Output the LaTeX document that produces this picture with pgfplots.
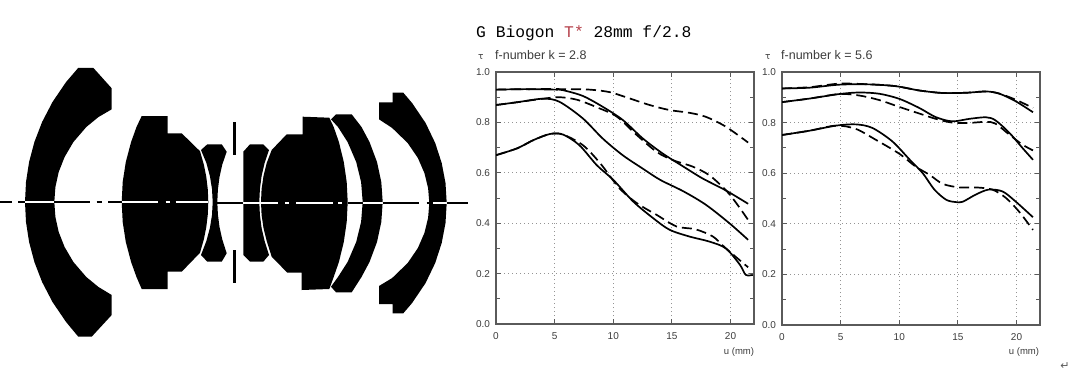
\documentclass[border=0pt]{standalone}
\usepackage{pgfplots}
\pgfplotsset{compat=1.18}
\usepackage{fontspec}
\setmainfont{Liberation Sans}
\newfontfamily\titlefont{Liberation Mono}
\newfontfamily\symfont{DejaVu Sans}
\definecolor{axgray}{HTML}{5A5A5A}
\definecolor{txtgray}{HTML}{3C3C3C}
\definecolor{tred}{HTML}{B5404A}
\pgfplotsset{
  lens/.style={fill=black,draw=none,forget plot},
  cb/.style={black,line width=1.6pt,forget plot},
  cw/.style={white,line width=1.6pt,forget plot},
  sol/.style={black,line width=1.7pt,smooth,tension=0.5,no markers},
  das/.style={black,line width=1.7pt,smooth,tension=0.5,no markers,dash pattern=on 10pt off 5pt},
  panel/.style={
    scale only axis, anchor=south west,
    xmin=0,xmax=22,ymin=0,ymax=1,
    xtick={0,5,10,15,20},
    ytick={0,0.2,0.4,0.6,0.8,1.0},
    minor y tick num=1,
    yticklabel style={/pgf/number format/fixed,/pgf/number format/fixed zerofill,/pgf/number format/precision=1},
    /pgf/number format/assume math mode=true,
    tick label style={font=\fontsize{10}{10}\selectfont,text=txtgray},
    grid=major,
    major grid style={axgray!65,line width=0.9pt,dash pattern=on 0.9pt off 3.1pt},
    axis line style={axgray,line width=1.1pt},
    tick style={axgray,line width=1pt},
    major tick length=5pt, minor tick length=4pt,
    tick align=inside,
    xtick pos=both, ytick pos=both,
    xticklabel pos=bottom, yticklabel pos=left,
    xticklabel style={yshift=-5pt},
    yticklabel style={xshift=-2.5pt},
  }
}
\begin{document}
\begin{tikzpicture}[x=1pt,y=1pt]
\path[use as bounding box] (0,0) rectangle (1080,376);
% lens diagram, in image pixel coordinates
\begin{axis}[at={(0pt,0pt)},anchor=south west,scale only axis,width=1080pt,height=376pt,
  xmin=0,xmax=1080,ymin=0,ymax=376,y dir=reverse,hide axis]
\addplot[lens] coordinates {(78.3,67.8)(93.3,67.8)(111.7,88.3)(111.7,109.3)(98.5,117)(86.3,127)(73.4,142)(64.6,157)(58.7,172)(55.4,187)(54.3,202)(55.4,217)(58.7,232)(64.6,247)(73.4,262)(86.3,277)(98.5,287)(111.7,295)(111.7,315)(91.7,336.7)(78.3,336.7)(66.1,322)(52.5,302)(42.1,282)(34.4,262)(29.1,242)(26,222)(25,202)(26,182)(29.1,162)(34.4,142)(42.1,122)(52.5,102)(66.1,82)} --cycle;
\addplot[lens] coordinates {(141.7,116)(167.7,116)(167.7,133.3)(181.7,133.3)(200,151.2)(203.8,164.5)(206.3,177)(207.8,189.5)(208.3,202)(207.8,214.5)(206.3,227)(203.8,239.5)(200,252.8)(181.7,271.7)(167.7,271.7)(167.7,289)(141.7,289)(136.5,277)(131.1,262)(125.8,242)(122.7,222)(121.7,202)(122.7,182)(125.8,162)(131.1,142)(136.5,127)} --cycle;
\addplot[lens] coordinates {(207.3,144.3)(221.7,144.3)(226.7,151.7)(222.3,164.5)(219.5,177)(217.9,189.5)(217.3,202)(217.9,214.5)(219.5,227)(222.3,239.5)(226.7,253.3)(221.7,261.7)(207.3,261.7)(201,255)(206.4,241)(209.9,228)(212,215)(212.7,202)(212,189)(209.9,176)(206.4,163)(201,150)} --cycle;
\addplot[lens] coordinates {(232.5,121.7)(236,121.7)(236,155)(232.5,155)} --cycle;
\addplot[lens] coordinates {(232.5,250)(236,250)(236,283)(232.5,283)} --cycle;
\addplot[lens] coordinates {(243.3,151.7)(250,144.3)(263.3,144.3)(269,150)(264.6,163)(261.6,176)(259.9,189)(259.3,202)(259.9,215)(261.6,228)(264.6,241)(269,255)(263.3,261.7)(250,261.7)(243.3,255)} --cycle;
\addplot[lens] coordinates {(302.7,116.7)(329.3,117.7)(333.7,127)(338.9,142)(343.8,162)(346.7,182)(347.7,202)(346.7,222)(343.8,242)(338.9,262)(333.7,277)(329.3,289)(301.7,290)(301.7,272.7)(287.3,272.7)(271.7,256.7)(266.7,241)(263.5,228)(261.6,215)(261,202)(261.6,189)(263.5,176)(266.7,163)(271.7,150)(286.7,134.3)(302.7,134.3)} --cycle;
\addplot[lens] coordinates {(331,119.3)(336,114.3)(351.7,114.3)(361.5,127)(369.5,142)(377,162)(381.3,182)(382.7,202)(381.3,222)(377,242)(369.5,262)(361.5,277)(351.7,292.3)(336,292.3)(331,286.7)(338,277)(347.6,262)(356.2,242)(361.1,222)(362.7,202)(361.1,182)(356.2,162)(347.6,142)(338,127)} --cycle;
\addplot[lens] coordinates {(392.7,92.7)(403.3,92.7)(412.1,103)(425.6,123)(435.2,143)(441.7,163)(445.5,183)(446.7,203)(445.5,223)(441.7,243)(435.2,263)(425.6,283)(412.1,303)(403.3,313.3)(392.7,313.3)(392.7,304)(379,304)(379,286)(392.2,278)(407.7,263)(417.9,248)(424.4,233)(428.1,218)(429.3,203)(428.1,188)(424.4,173)(417.9,158)(407.7,143)(392.2,128)(379,119.3)(379,102.3)(392.7,102.3)} --cycle;
% optical axis
\addplot[cb] coordinates {(0,202)(12,202)};
\addplot[cb] coordinates {(18.3,202)(25,202)};
\addplot[cw] coordinates {(25,202)(54.3,202)};
\addplot[cb] coordinates {(54.3,202)(90,202)};
\addplot[cb] coordinates {(96.7,202)(101.7,202)};
\addplot[cb] coordinates {(108.3,202)(121.7,202)};
\addplot[cw] coordinates {(121.7,202)(158,202)};
\addplot[cw] coordinates {(165.7,202)(170,202)};
\addplot[cw] coordinates {(175.7,202)(208.3,202)};
\addplot[cb] coordinates {(217.3,203)(242.7,203)};
\addplot[cw] coordinates {(242.7,203)(278,203)};
\addplot[cw] coordinates {(285,203)(289.3,203)};
\addplot[cw] coordinates {(296,203)(332.7,203)};
\addplot[cw] coordinates {(338,203)(341.7,203)};
\addplot[cb] coordinates {(347.7,203)(362.7,203)};
\addplot[cw] coordinates {(362.7,203)(382.7,203)};
\addplot[cb] coordinates {(382.7,203)(419.3,203)};
\addplot[cb] coordinates {(426.7,203)(433.3,203)};
\addplot[cw] coordinates {(433.3,203)(446.7,203)};
\addplot[cb] coordinates {(446.7,203)(468.3,203)};
\end{axis}
% k = 2.8
\begin{axis}[panel,at={(496pt,52pt)},width=258pt,height=252pt]
\addplot[sol] coordinates {(0,.93)(2.5,.932)(5,.93)(5.7,.928)(7.4,.905)(9.1,.862)(10.8,.81)(12.5,.737)(14.2,.677)(16,.624)(17.6,.578)(19.6,.53)(21.5,.477)};
\addplot[das] coordinates {(0,.93)(3,.932)(6,.932)(8,.93)(9.7,.92)(11.4,.895)(13.1,.869)(14.8,.849)(16.5,.838)(17.9,.822)(19.6,.783)(21.5,.72)};
\addplot[sol] coordinates {(0,.869)(1.8,.88)(4,.894)(5.4,.882)(7.4,.816)(9.1,.736)(10.8,.67)(12.5,.617)(14,.572)(16,.526)(17.9,.473)(19.9,.40)(21.5,.334)};
\addplot[das] coordinates {(0,.869)(1.8,.88)(4,.894)(5.4,.90)(6.9,.89)(8.6,.86)(10.3,.823)(12,.75)(13.7,.683)(15.1,.65)(16.8,.624)(18.2,.59)(19.6,.531)(20.5,.479)(21.5,.413)};
\addplot[sol] coordinates {(0,.67)(1.8,.697)(3.2,.73)(4.6,.754)(5.7,.752)(7.1,.71)(8.6,.63)(10,.572)(11.7,.486)(13.4,.42)(14.8,.374)(16.5,.347)(18.2,.327)(19.6,.30)(20.8,.235)(21.3,.195)(21.9,.195)};
\addplot[das] coordinates {(0,.67)(1.8,.697)(3.2,.73)(4.6,.754)(5.7,.752)(7.4,.71)(8.9,.637)(10.5,.54)(12,.48)(13.7,.433)(15.4,.387)(17,.376)(18.5,.347)(19.6,.30)(21.5,.225)};
\end{axis}
% k = 5.6
\begin{axis}[panel,at={(782pt,51pt)},width=258pt,height=253pt]
\addplot[sol] coordinates {(0,.935)(2.35,.938)(4.9,.95)(7.5,.951)(9.7,.944)(11.7,.927)(13.7,.917)(15.7,.918)(17.4,.923)(18.5,.915)(19.9,.885)(21.4,.841)};
\addplot[das] coordinates {(0,.935)(2.35,.94)(4.9,.954)(7.5,.951)(9.7,.944)(11.7,.927)(13.7,.917)(15.7,.918)(17.4,.923)(18.5,.915)(19.9,.891)(21.4,.858)};
\addplot[sol] coordinates {(0,.881)(2.35,.895)(4.9,.913)(6.6,.919)(8.3,.914)(10,.894)(11.7,.858)(13.1,.822)(14.5,.805)(16,.815)(17.4,.821)(18.2,.809)(19.4,.759)(20.5,.70)(21.4,.653)};
\addplot[das] coordinates {(0,.881)(2.35,.895)(4.9,.913)(6.6,.907)(8.3,.889)(10,.862)(11.7,.836)(13.1,.815)(14.5,.80)(16,.799)(17.4,.803)(18.2,.796)(19.4,.752)(20.5,.713)(21.4,.69)};
\addplot[sol] coordinates {(0,.751)(2.35,.768)(4.6,.788)(6.3,.793)(7.7,.779)(9.4,.726)(10.9,.653)(12,.6)(13,.535)(14,.495)(14.8,.486)(15.4,.487)(16.5,.515)(17.6,.535)(18.8,.528)(19.9,.489)(21.4,.426)};
\addplot[das] coordinates {(0,.751)(2.35,.768)(4.6,.788)(6.3,.775)(8,.732)(10,.677)(11.4,.626)(12.6,.593)(13.7,.558)(15.1,.544)(16.8,.543)(18,.534)(19.1,.502)(20.2,.449)(21.4,.376)};
\end{axis}
% texts
\node[anchor=base west,inner sep=0pt] at (476,338) {\titlefont\fontsize{16.3}{16.3}\selectfont G Biogon \textcolor{tred}{T*} 28mm f/2.8};
\node[anchor=base west,inner sep=0pt,text=txtgray] at (478,317) {\symfont\fontsize{9}{9}\selectfont τ};
\node[anchor=base west,inner sep=0pt,text=txtgray] at (495,317) {\fontsize{12.5}{12.5}\selectfont f-number k = 2.8};
\node[anchor=base west,inner sep=0pt,text=txtgray] at (765,317) {\symfont\fontsize{9}{9}\selectfont τ};
\node[anchor=base west,inner sep=0pt,text=txtgray] at (781,317) {\fontsize{12.5}{12.5}\selectfont f-number k = 5.6};
\node[anchor=base,inner sep=0pt,text=txtgray] at (739,22) {\fontsize{9.5}{9.5}\selectfont u (mm)};
\node[anchor=base,inner sep=0pt,text=txtgray] at (1024,22) {\fontsize{9.5}{9.5}\selectfont u (mm)};
\node[anchor=base,inner sep=0pt,text=axgray] at (1065,7) {\symfont\fontsize{11}{11}\selectfont ↵};
\end{tikzpicture}
\end{document}
